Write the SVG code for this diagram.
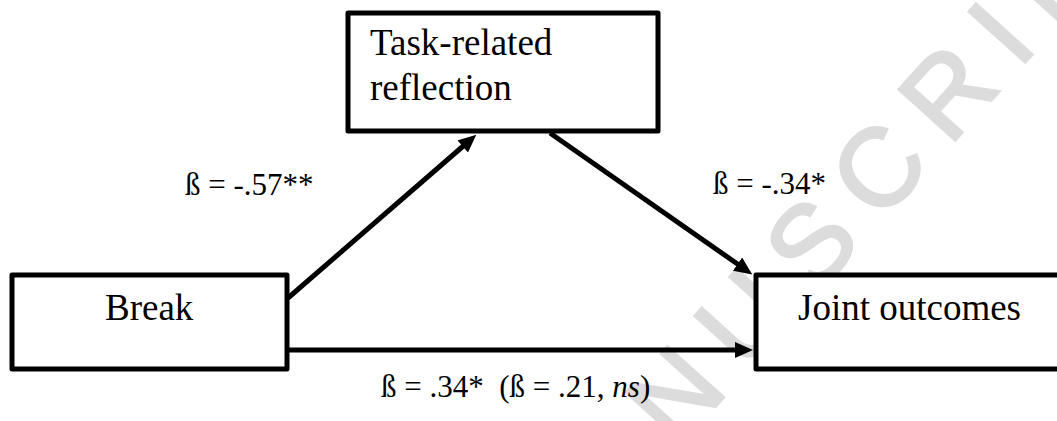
<svg xmlns="http://www.w3.org/2000/svg" width="1057" height="421" viewBox="0 0 1057 421">
<style>
.box{fill:#fff;stroke:#000;stroke-width:5;stroke-linejoin:round}
.node{font-family:"Liberation Serif","Times New Roman",serif;font-size:37px;fill:#000}
.lbl{font-family:"Liberation Serif","Times New Roman",serif;font-size:31px;fill:#000}
.edge{stroke:#000;stroke-width:5;fill:none;marker-end:url(#ah)}
.wm{font-family:"Liberation Sans",Arial,sans-serif;font-size:110px;fill:#dcdcdc;stroke:#dcdcdc;stroke-width:3;letter-spacing:24px}
</style>
<defs>
<marker id="ah" markerUnits="userSpaceOnUse" markerWidth="20" markerHeight="18" refX="3" refY="8" orient="auto">
<path d="M0,0 L18,8 L0,16 z" fill="#000"/>
</marker>
</defs>
<rect width="1057" height="421" fill="#fff"/>
<g id="watermark">
<text class="wm" transform="translate(810,243) rotate(-48)" x="-243" y="39">NUSCRIP</text>
</g>
<g id="connectors">
<line class="edge" x1="288" y1="298" x2="465" y2="144.5"/>
<line class="edge" x1="550" y1="133" x2="740" y2="265.8"/>
<line class="edge" x1="289" y1="350" x2="738" y2="350"/>
</g>
<g id="node-task">
<rect class="box" x="348" y="13" width="310" height="118"/>
<text class="node" x="370" y="55">Task-related</text>
<text class="node" x="370" y="100">reflection</text>
</g>
<g id="node-break">
<rect class="box" x="12" y="275" width="275" height="94"/>
<text class="node" x="105" y="320">Break</text>
</g>
<g id="node-joint">
<rect class="box" x="756" y="275" width="330" height="94"/>
<text class="node" x="798" y="320">Joint outcomes</text>
</g>
<g id="labels">
<text class="lbl" x="185" y="195">ß = -.57**</text>
<text class="lbl" x="713" y="194">ß = -.34*</text>
<text class="lbl" x="381" y="397" xml:space="preserve">ß = .34*  (ß = .21, <tspan font-style="italic">ns</tspan>)</text>
</g>
</svg>
